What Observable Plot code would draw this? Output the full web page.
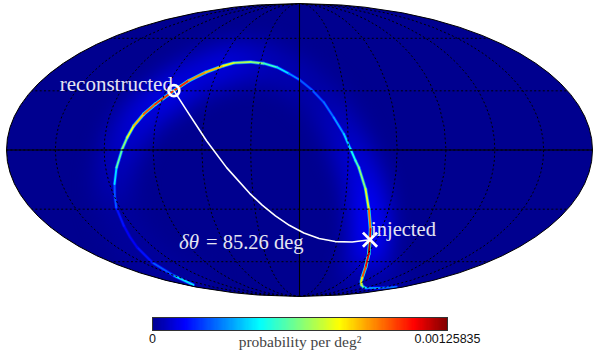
<!DOCTYPE html>
<html><head><meta charset="utf-8">
<script src="https://cdn.jsdelivr.net/npm/d3@7"></script>
<script src="https://cdn.jsdelivr.net/npm/@observablehq/plot@0.6"></script>
<style>html,body{margin:0;padding:0;background:#fff}svg{display:block}</style>
</head><body><div id="chart"></div>
<script>
// Sky-position ridge of the probability map (deg) and its density along the ridge
const arcLon = [-167.2,-150.3,-141.1,-133.5,-126.1,-122.4,-116.8,-113.2,-108.9,-106.2,-103.2,-98.7,-93.2,-84.4,-77.2,-68.1,-57.1,-50.2,-37.6,-27.2,-16.6,-7.7,0,8.5,15.8,21.6,27.4,31.3,34.5,36.7,42.1,46.5,51.8,54.8,60.4,67.8,78,97.6,112.1,124,148.3,166.9];
const arcLat = [-76.8,-69.6,-60.5,-51.2,-38.9,-29.1,-17,-8.7,0.5,6.3,12.1,18,23.1,30.1,35.4,39.9,43.6,45.2,45.7,44.9,42.7,39.3,35.9,30.4,24,16.3,8,0.5,-5.3,-8.7,-19.6,-29.9,-40.7,-46.7,-55.2,-63.7,-70.8,-76.8,-78.8,-79.6,-79.6,-78.5];
const arcProb = [.00042,.00025,.00016,.00013,.00016,.00025,.00042,.00057,.00063,.00076,.00088,.00101,.00107,.00107,.00094,.00088,.00078,.00069,.00063,.00053,.00042,.00031,.00025,.00025,.00028,.00033,.0004,.00048,.00055,.00063,.00076,.00098,.00113,.0012,.00113,.00103,.00082,.00069,.00044,.00031,.00028,.00019];
const glowProb = [.00002,.00002,.00002,.00002,.00002,.00002,.00004,.00005,.00006,.00007,.00008,.00009,.0001,.00011,.00011,.00011,.0001,.00009,.00008,.00006,.00005,.00004,.00004,.00004,.00004,.00005,.00006,.00007,.00008,.00009,.00011,.00013,.00014,.00014,.00014,.00012,.00008,.00005,.00003,.00002,.00002,.00002];
const reconstructed = [-84.4, 30.1];
const injected = [54.8, -46.7];
const maxProb = 0.00125835;
const jetStops = [0,.111,.365,.5,.635,.889,1];
const jetColors = ["#00008f","#0000ff","#00ffff","#7fff7f","#ffff00","#ff0000","#800000"];
const serif = "'Liberation Serif',serif";

const colorScale = {type:"linear",domain:jetStops.map(s=>s*maxProb),range:jetColors,clamp:true};
const arc = arcLon.map((lon,i)=>({lon,lat:arcLat[i],p:arcProb[i],g:glowProb[i]}));

function mollweideRaw(l,p){
  let t=p; const c=Math.PI*Math.sin(p);
  for(let i=0;i<30;i++){const q=1+Math.cos(t); if(q<1e-9)break; const d=(t+Math.sin(t)-c)/q; t-=d; if(Math.abs(d)<1e-8)break;}
  t/=2;
  return [2*Math.SQRT2/Math.PI*l*Math.cos(t),Math.SQRT2*Math.sin(t)];
}
const graticule = d3.geoGraticule().extent([[-180,-90.001],[180,90.001]]).step([30,30])();
const axes = {type:"MultiLineString",coordinates:[
  [[0,-90],[0,-45],[0,0],[0,45],[0,90]],
  [[-180,0],[-90,0],[0,0],[90,0],[180,0]]]};

const map = Plot.plot({
  width:598,height:310,marginLeft:6,marginRight:6,marginTop:3,marginBottom:14,
  projection:{type:()=>d3.geoProjection(mollweideRaw),domain:{type:"Sphere"},clip:false},
  color:colorScale,
  marks:[
    Plot.sphere({fill:jetColors[0]}),
    Plot.line(arc,{x:"lon",y:"lat",z:null,stroke:"g",strokeWidth:40,strokeOpacity:.8,strokeLinecap:"round",clip:"sphere",imageFilter:"blur(11px)"}),
    Plot.line(arc,{x:"lon",y:"lat",z:null,stroke:d=>d.p*.42,strokeWidth:3.4,strokeLinecap:"round",clip:"sphere",imageFilter:"blur(.5px)"}),
    Plot.line(arc,{x:"lon",y:"lat",z:null,stroke:"p",strokeWidth:1.9,strokeLinecap:"round",clip:"sphere",imageFilter:"blur(.3px)"}),
    Plot.geo(graticule,{stroke:"#000",strokeWidth:1,strokeDasharray:"1.2 3.1",clip:"sphere"}),
    Plot.geo(axes,{stroke:"#000",strokeWidth:1.1,clip:"sphere"}),
    Plot.sphere({stroke:"#000",strokeWidth:1}),
    Plot.line([reconstructed,injected],{x:d=>d[0],y:d=>d[1],stroke:"#fff",strokeWidth:1.6}),
    Plot.dot([reconstructed],{x:d=>d[0],y:d=>d[1],r:5.5,stroke:"#fff",strokeWidth:2.6,fill:"none"}),
    Plot.dot([injected],{x:d=>d[0],y:d=>d[1],symbol:"times",r:6.5,stroke:"#fff",strokeWidth:2.8}),
    Plot.text([reconstructed],{x:d=>d[0],y:d=>d[1],text:()=>"reconstructed",textAnchor:"end",dx:-1,dy:-6,fill:"#e4e4f2",fontSize:21,fontFamily:serif}),
    Plot.text([injected],{x:d=>d[0],y:d=>d[1],text:()=>"injected",textAnchor:"start",dx:1,dy:-10,fill:"#e4e4f2",fontSize:20.5,fontFamily:serif}),
    Plot.text([injected],{x:d=>d[0],y:d=>d[1],text:()=>"δθ",textAnchor:"start",dx:-191,dy:3,fill:"#e4e4f2",fontSize:21,fontStyle:"italic",fontFamily:serif}),
    Plot.text([injected],{x:d=>d[0],y:d=>d[1],text:()=>"= 85.26 deg",textAnchor:"start",dx:-164,dy:3,fill:"#e4e4f2",fontSize:20.5,fontFamily:serif})
  ]
});

const levels = d3.range(256).map(i=>i/256*maxProb);
const step = maxProb/256;
const bar = Plot.plot({
  width:598,height:42,marginLeft:152,marginRight:151,marginTop:7,marginBottom:22,
  x:{domain:[0,maxProb]},
  color:colorScale,
  marks:[
    Plot.rectX(levels,{x1:d=>d,x2:d=>d+step,fill:d=>d+step/2,inset:0,shapeRendering:"crispEdges"}),
    Plot.frame({stroke:"#333",strokeWidth:1}),
    Plot.axisX({ticks:[0,maxProb],tickSize:0,tickPadding:4,label:null,fontSize:12.5,fontFamily:"'Liberation Sans',sans-serif",fill:"#111",tickFormat:d=>d===0?"0":"0.00125835"}),
    Plot.text(["probability per deg²"],{frameAnchor:"bottom",dy:16,text:d=>d,fontSize:15.5,fontFamily:serif,fill:"#444"})
  ]
});
document.getElementById("chart").append(map,bar);
</script></body></html>
